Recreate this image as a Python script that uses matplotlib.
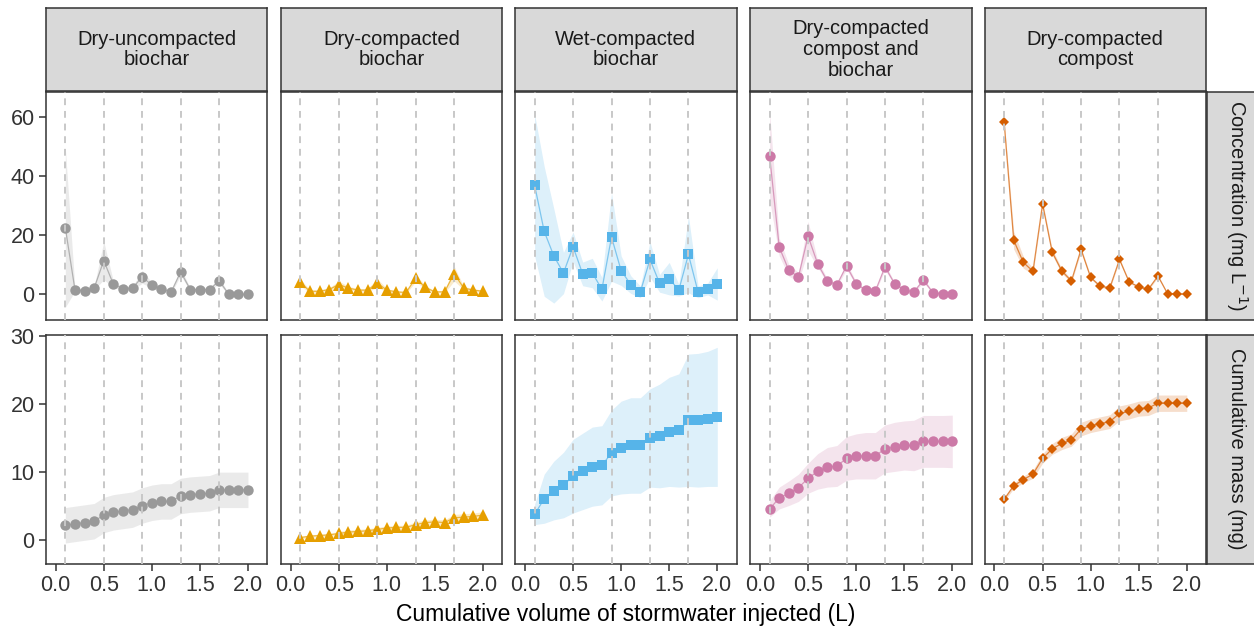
"""
Stormwater leaching: concentration and cumulative mass per treatment
"""

###############################################################################
# Libraries
import numpy as np
import matplotlib.pyplot as plt

plt.rcParams['font.family'] = ['Liberation Sans', 'DejaVu Sans']

####################################
# Data
vol = np.round(np.arange(1, 21)*0.1, 1)
pulses = [0.1, 0.5, 0.9, 1.3, 1.7]

names = ['Dry-uncompacted\nbiochar', 'Dry-compacted\nbiochar', 'Wet-compacted\nbiochar',
         'Dry-compacted\ncompost and\nbiochar', 'Dry-compacted\ncompost']
rows = ['Concentration (mg L$^{-1}$)', 'Cumulative mass (mg)']

# concentration (mg/L), mean and sd
conc_duc = [22.6, 1.6, 1.1, 2.1, 11.4, 3.4, 1.9, 2.1, 5.9, 3.1,
            1.9, 0.7, 7.6, 1.6, 1.6, 1.6, 4.6, 0.0, 0.0, 0.0]
conc_duc_sd = [27.0, 0.6, 0.5, 0.6, 6.5, 1.0, 0.6, 0.6, 2.2, 0.9,
               0.6, 0.5, 1.2, 0.5, 0.5, 0.5, 1.0, 0.3, 0.3, 0.3]
conc_dcb = [4.0, 1.0, 1.0, 1.6, 3.3, 2.1, 1.4, 1.4, 3.8, 1.4,
            0.8, 0.6, 5.5, 2.3, 0.8, 0.8, 7.0, 2.1, 1.4, 1.0]
conc_dcb_sd = [1.2, 0.5, 0.5, 0.6, 1.2, 0.6, 0.5, 0.5, 1.5, 0.5,
               0.4, 0.4, 1.2, 0.6, 0.4, 0.4, 2.5, 0.6, 0.5, 0.4]
conc_wcb = [37.0, 21.3, 13.0, 7.2, 16.1, 6.9, 7.2, 1.7, 19.4, 8.0,
            3.3, 0.8, 11.8, 3.7, 5.3, 1.4, 13.5, 0.8, 1.8, 3.5]
conc_wcb_sd = [24.0, 22.0, 16.0, 7.0, 5.0, 4.0, 5.0, 4.0, 15.0, 5.0,
               3.0, 2.0, 6.0, 3.0, 5.5, 2.0, 13.0, 2.0, 2.0, 5.5]
conc_dcc = [47.0, 16.0, 8.1, 5.9, 19.7, 10.3, 4.5, 3.2, 9.6, 3.6,
            1.4, 1.1, 9.3, 3.6, 1.5, 0.8, 4.8, 0.5, 0.2, 0.2]
conc_dcc_sd = [15.0, 3.0, 2.0, 1.5, 5.0, 1.2, 0.8, 0.6, 1.2, 0.6,
               0.4, 0.4, 1.0, 0.5, 0.4, 0.3, 0.8, 0.3, 0.2, 0.2]
conc_dco = [58.5, 18.3, 10.8, 7.8, 30.6, 14.3, 7.9, 4.5, 15.2, 5.7,
            2.7, 2.2, 11.8, 4.2, 2.5, 1.7, 6.2, 0.2, 0.2, 0.0]
conc_dco_sd = [0.8, 3.0, 2.0, 1.0, 1.0, 1.0, 0.8, 0.6, 0.8, 0.5,
               0.4, 0.4, 0.6, 0.4, 0.3, 0.3, 0.5, 0.2, 0.2, 0.2]

# cumulative mass (mg), mean and sd
mass_duc = [2.2, 2.4, 2.6, 2.8, 3.7, 4.1, 4.3, 4.5, 5.1, 5.5,
            5.7, 5.7, 6.5, 6.7, 6.8, 6.9, 7.4, 7.4, 7.4, 7.4]
mass_duc_sd = [2.6]*20
mass_dcb = [0.4, 0.6, 0.7, 0.8, 1.0, 1.2, 1.3, 1.4, 1.6, 1.8,
            1.9, 1.9, 2.3, 2.6, 2.7, 2.6, 3.3, 3.4, 3.5, 3.7]
mass_dcb_sd = [0.2, 0.2, 0.2, 0.2, 0.3, 0.3, 0.3, 0.3, 0.3, 0.3,
               0.3, 0.3, 0.4, 0.4, 0.4, 0.4, 0.5, 0.5, 0.5, 0.5]
mass_wcb = [3.8, 6.1, 7.3, 8.1, 9.4, 10.1, 10.8, 11.0, 12.8, 13.6,
            13.9, 13.9, 15.0, 15.3, 15.9, 16.1, 17.6, 17.6, 17.8, 18.1]
mass_wcb_sd = [1.5, 3.6, 4.3, 4.8, 5.4, 5.6, 5.8, 5.8, 6.3, 6.8,
               7.0, 7.0, 7.2, 7.6, 8.0, 8.3, 9.7, 9.8, 9.9, 10.2]
mass_dcc = [4.6, 6.2, 6.9, 7.7, 9.1, 10.1, 10.7, 10.9, 12.0, 12.3,
            12.4, 12.4, 13.4, 13.7, 13.9, 13.9, 14.5, 14.5, 14.5, 14.5]
mass_dcc_sd = [1.2, 1.6, 1.8, 2.0, 2.2, 2.6, 2.9, 3.0, 3.2, 3.3,
               3.4, 3.4, 3.5, 3.6, 3.6, 3.7, 3.8, 3.8, 3.8, 3.85]
mass_dco = [6.0, 8.0, 8.9, 9.7, 12.0, 13.4, 14.2, 14.7, 16.3, 16.8,
            17.1, 17.4, 18.6, 18.9, 19.3, 19.4, 20.1, 20.1, 20.1, 20.1]
mass_dco_sd = [0.3, 0.4, 0.5, 0.6, 0.7, 0.8, 0.9, 0.9, 1.0, 1.0,
               1.0, 1.0, 1.1, 1.1, 1.1, 1.1, 1.2, 1.2, 1.2, 1.2]

conc = [(conc_duc, conc_duc_sd), (conc_dcb, conc_dcb_sd), (conc_wcb, conc_wcb_sd),
        (conc_dcc, conc_dcc_sd), (conc_dco, conc_dco_sd)]
mass = [(mass_duc, mass_duc_sd), (mass_dcb, mass_dcb_sd), (mass_wcb, mass_wcb_sd),
        (mass_dcc, mass_dcc_sd), (mass_dco, mass_dco_sd)]

####################################
# Styles
colors = ['#999999', '#E69F00', '#56B4E9', '#CC79A7', '#D55E00']
markers = ['o', '^', 's', 'o', 'D']
msizes = [7.5, 8, 7, 7.5, 5.2]
ylims = [(-8.8, 68.7), (-3.4, 30.1)]
yticks = [[0, 20, 40, 60], [0, 10, 20, 30]]
edge = '#333333'

####################################
# Layout (pixels)
W, H = 1254, 632
lefts = [45.7, 280.7, 515.0, 750.0, 984.5]
pw = 221.5
tops = [91.7, 335.0]
ph = [228.5, 228.5]

fig = plt.figure(figsize=(W/100, H/100), dpi=100)

def px_axes(l, t, w, h):
    return fig.add_axes([l/W, 1 - (t + h)/H, w/W, h/H])

def strip(ax, text, rot=0):
    ax.set_facecolor('#D9D9D9')
    ax.set_xticks([])
    ax.set_yticks([])
    for s in ax.spines.values():
        s.set_color(edge)
        s.set_linewidth(1.1)
    ax.text(0.5, 0.5, text, transform=ax.transAxes, ha='center', va='center',
            rotation=rot, fontsize=14.5, color='#1A1A1A', linespacing=1.1)

####################################
# Strips
for j in range(5):
    strip(px_axes(lefts[j], 8.3, pw, 82.4), names[j])
for i in range(2):
    strip(px_axes(1206.5, tops[i], 60, ph[i]), rows[i], rot=270)

####################################
# Panels
for i, data in enumerate([conc, mass]):
    for j in range(5):
        ax = px_axes(lefts[j], tops[i], pw, ph[i])
        m = np.array(data[j][0])
        sd = np.array(data[j][1])
        ax.fill_between(vol, m - sd, m + sd, color=colors[j], alpha=0.2, lw=0, zorder=1)
        ax.plot(vol, m, '-', color=colors[j], lw=0.9, alpha=0.7, zorder=2)
        ax.plot(vol, m, markers[j], color=colors[j], ms=msizes[j], mew=0, zorder=3)
        for p in pulses:
            ax.axvline(p, color='#C8C8C8', lw=1.4, dashes=(3.5, 3), zorder=4)
        ax.set_xlim(-0.104, 2.20)
        ax.set_ylim(*ylims[i])
        ax.set_xticks([0.0, 0.5, 1.0, 1.5, 2.0])
        ax.set_yticks(yticks[i])
        for s in ax.spines.values():
            s.set_color(edge)
            s.set_linewidth(1.1)
        ax.tick_params(length=5, width=1.1, color=edge, labelsize=15.5,
                       labelcolor='#333333', pad=3)
        if i == 1:
            ax.set_xticklabels(['0.0', '0.5', '1.0', '1.5', '2.0'])
        else:
            ax.tick_params(axis='x', bottom=False, labelbottom=False)
        if j > 0:
            ax.tick_params(axis='y', left=False, labelleft=False)

fig.text(626/W, 1 - 615/H, 'Cumulative volume of stormwater injected (L)',
         ha='center', va='center', fontsize=16.5, color='black')

plt.savefig('out.png', dpi=100)
plt.close()
